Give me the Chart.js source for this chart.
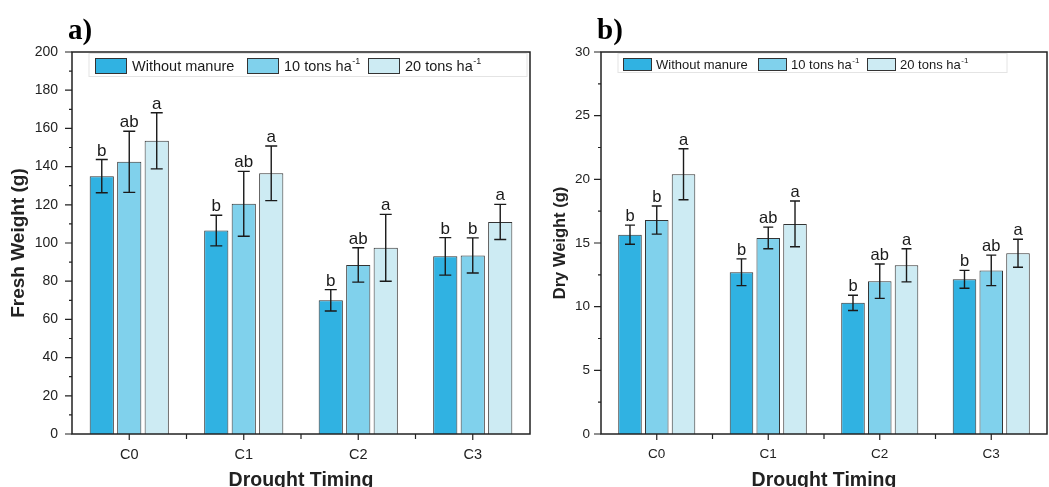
<!DOCTYPE html>
<html>
<head>
<meta charset="utf-8">
<script src="https://cdn.jsdelivr.net/npm/chart.js@4.4.1/dist/chart.umd.min.js"></script>
<style>
  body { margin: 0; background: #fff; }
  #wrap { position: relative; width: 1049px; height: 487px; overflow: hidden; }
  #chartA { position: absolute; left: 0; top: 0; }
  #chartB { position: absolute; left: 535px; top: 0; }
</style>
</head>
<body>
<div id="wrap">
  <canvas id="chartA" width="535" height="487"></canvas>
  <canvas id="chartB" width="514" height="487"></canvas>
</div>
<script>
// data
const categories = ['C0', 'C1', 'C2', 'C3'];
const seriesNames = ['Without manure', '10 tons ha', '20 tons ha'];
const seriesSup = ['', '-1', '-1'];

// a) fresh weight (g)
const freshNoManure = [135, 106.5, 70, 93];
const fresh10 = [142.5, 120.5, 88.5, 93.5];
const fresh20 = [153.5, 136.5, 97.5, 111];
const freshErrNoManure = [8.7, 8, 5.6, 9.8];
const freshErr10 = [16, 17, 9, 9.2];
const freshErr20 = [14.7, 14.3, 17.5, 9.2];
const freshLetNoManure = ['b', 'b', 'b', 'b'];
const freshLet10 = ['ab', 'ab', 'ab', 'b'];
const freshLet20 = ['a', 'a', 'a', 'a'];

// b) dry weight (g)
const dryNoManure = [15.65, 12.7, 10.3, 12.15];
const dry10 = [16.8, 15.4, 12, 12.85];
const dry20 = [20.4, 16.5, 13.25, 14.2];
const dryErrNoManure = [0.75, 1.05, 0.6, 0.7];
const dryErr10 = [1.1, 0.85, 1.35, 1.2];
const dryErr20 = [2.0, 1.8, 1.3, 1.1];
const dryLetNoManure = ['b', 'b', 'b', 'b'];
const dryLet10 = ['b', 'ab', 'ab', 'ab'];
const dryLet20 = ['a', 'a', 'a', 'a'];

const barColors = ['#30b2e2', '#80d1ec', '#cdebf3'];
const FONT = "'Liberation Sans', Arial, sans-serif";

// error bars, letters, frame, ticks, legend and panel tag
const panelDeco = {
    id: 'panelDeco',
    afterDatasetsDraw(chart, args, opts) {
        const ctx = chart.ctx;
        const area = chart.chartArea;
        const y = chart.scales.y;
        const x = chart.scales.x;
        ctx.save();

        // error bars + letters
        chart.data.datasets.forEach((ds, di) => {
            const meta = chart.getDatasetMeta(di);
            meta.data.forEach((bar, i) => {
                const v = ds.data[i], e = ds.errors[i];
                const yt = y.getPixelForValue(v + e);
                const yb = y.getPixelForValue(v - e);
                const cw = opts.capWidth / 2;
                ctx.strokeStyle = '#1a1a1a';
                ctx.lineWidth = 1.4;
                ctx.beginPath();
                ctx.moveTo(bar.x, yt); ctx.lineTo(bar.x, yb);
                ctx.moveTo(bar.x - cw, yt); ctx.lineTo(bar.x + cw, yt);
                ctx.moveTo(bar.x - cw, yb); ctx.lineTo(bar.x + cw, yb);
                ctx.stroke();
                ctx.fillStyle = '#1a1a1a';
                ctx.font = opts.letterSize + 'px ' + FONT;
                ctx.textAlign = 'center';
                ctx.textBaseline = 'alphabetic';
                ctx.fillText(ds.letters[i], bar.x, yt - 4);
            });
        });

        // frame
        ctx.strokeStyle = '#222';
        ctx.lineWidth = 1.5;
        ctx.strokeRect(area.left, area.top, area.right - area.left, area.bottom - area.top);

        // y ticks (major + minor)
        ctx.lineWidth = 1.2;
        ctx.beginPath();
        const yt = y.ticks.map(t => t.value);
        yt.forEach((v, k) => {
            const py = y.getPixelForValue(v);
            ctx.moveTo(area.left - 7, py); ctx.lineTo(area.left, py);
            if (k < yt.length - 1) {
                const pm = y.getPixelForValue((v + yt[k + 1]) / 2);
                ctx.moveTo(area.left - 3, pm); ctx.lineTo(area.left, pm);
            }
        });
        // x ticks at categories and boundaries
        categories.forEach((c, i) => {
            const px = x.getPixelForValue(i);
            ctx.moveTo(px, area.bottom); ctx.lineTo(px, area.bottom + 6);
            if (i > 0) {
                const pb = (px + x.getPixelForValue(i - 1)) / 2;
                ctx.moveTo(pb, area.bottom); ctx.lineTo(pb, area.bottom + 5);
            }
        });
        ctx.stroke();

        // legend
        const lg = opts.legend;
        ctx.strokeStyle = '#e4e4e4';
        ctx.lineWidth = 1;
        ctx.strokeRect(lg.boxLeft, lg.boxTop, lg.boxRight - lg.boxLeft, lg.boxBottom - lg.boxTop);
        chart.data.datasets.forEach((ds, di) => {
            const sx = lg.itemX[di];
            ctx.fillStyle = ds.backgroundColor;
            ctx.fillRect(sx, lg.swTop, lg.swW, lg.swH);
            ctx.strokeStyle = '#333';
            ctx.strokeRect(sx + 0.5, lg.swTop + 0.5, lg.swW - 1, lg.swH - 1);
            ctx.fillStyle = '#1a1a1a';
            ctx.textAlign = 'left';
            ctx.textBaseline = 'middle';
            ctx.font = lg.fontSize + 'px ' + FONT;
            const tx = sx + lg.swW + lg.gap;
            const ty = lg.swTop + lg.swH / 2 + 1;
            ctx.fillText(ds.label, tx, ty);
            if (seriesSup[di]) {
                const w = ctx.measureText(ds.label).width;
                ctx.font = Math.round(lg.fontSize * 0.62) + 'px ' + FONT;
                ctx.fillText(seriesSup[di], tx + w + 0.5, ty - lg.fontSize * 0.35);
            }
        });

        // panel tag
        ctx.fillStyle = '#000';
        ctx.font = "bold 29px 'Liberation Serif', 'Times New Roman', serif";
        ctx.textAlign = 'left';
        ctx.textBaseline = 'alphabetic';
        ctx.fillText(opts.tag, opts.tagX, 39);
        ctx.restore();
    }
};

function makeDatasets(vals, errs, lets) {
    return vals.map((v, k) => ({
        label: seriesNames[k],
        data: v,
        errors: errs[k],
        letters: lets[k],
        backgroundColor: barColors[k],
        borderColor: '#333',
        borderWidth: 1,
        categoryPercentage: 0.72,
        barPercentage: 0.88
    }));
}

function makeChart(canvasId, cfg) {
    return new Chart(document.getElementById(canvasId), {
        type: 'bar',
        data: {
            labels: categories,
            datasets: makeDatasets(cfg.vals, cfg.errs, cfg.lets)
        },
        options: {
            responsive: false,
            animation: false,
            layout: { padding: { top: 52, right: cfg.padRight, left: 0, bottom: 0 } },
            plugins: {
                legend: { display: false },
                tooltip: { enabled: false },
                panelDeco: cfg.deco
            },
            scales: {
                x: {
                    grid: { display: false, drawTicks: false },
                    border: { display: false },
                    ticks: {
                        color: '#222', padding: 12, maxRotation: 0, autoSkip: false,
                        font: { family: FONT, size: cfg.xTickSize }
                    },
                    title: {
                        display: true, text: 'Drought Timing', color: '#222',
                        font: { family: FONT, size: 19.5, weight: 'bold', lineHeight: 1 },
                        padding: { top: 0, bottom: -3 }
                    },
                    afterFit: s => { s.height = 53; }
                },
                y: {
                    min: 0, max: cfg.yMax,
                    grid: { display: false, drawTicks: false },
                    border: { display: false },
                    ticks: {
                        stepSize: cfg.yStep, color: '#222', padding: cfg.yPad,
                        font: { family: FONT, size: cfg.yTickSize }
                    },
                    title: {
                        display: true, text: cfg.yTitle, color: '#222',
                        font: { family: FONT, size: cfg.yTitleSize, weight: 'bold' },
                        padding: { top: cfg.yTitleOffset, bottom: 0 }
                    },
                    afterFit: s => { s.width = cfg.yWidth; }
                }
            }
        },
        plugins: [panelDeco]
    });
}

makeChart('chartA', {
    vals: [freshNoManure, fresh10, fresh20],
    errs: [freshErrNoManure, freshErr10, freshErr20],
    lets: [freshLetNoManure, freshLet10, freshLet20],
    yMax: 200, yStep: 20, yWidth: 72, padRight: 5, yPad: 14,
    yTitle: 'Fresh Weight (g)', yTitleSize: 19, yTitleOffset: 7,
    yTickSize: 14, xTickSize: 14.5,
    deco: {
        tag: 'a)', tagX: 68, capWidth: 12, letterSize: 17,
        legend: {
            boxLeft: 89, boxRight: 527, boxTop: 53.5, boxBottom: 76.5,
            itemX: [95, 247, 368], swTop: 58, swW: 32, swH: 16, gap: 5, fontSize: 14.5
        }
    }
});

makeChart('chartB', {
    vals: [dryNoManure, dry10, dry20],
    errs: [dryErrNoManure, dryErr10, dryErr20],
    lets: [dryLetNoManure, dryLet10, dryLet20],
    yMax: 30, yStep: 5, yWidth: 66, padRight: 2, yPad: 11,
    yTitle: 'Dry Weight (g)', yTitleSize: 16.5, yTitleOffset: 16,
    yTickSize: 13.5, xTickSize: 13.5,
    deco: {
        tag: 'b)', tagX: 62, capWidth: 10, letterSize: 16.5,
        legend: {
            boxLeft: 83, boxRight: 472, boxTop: 53.5, boxBottom: 72.5,
            itemX: [88, 223, 332], swTop: 58, swW: 29, swH: 13, gap: 4, fontSize: 13
        }
    }
});
</script>
</body>
</html>
